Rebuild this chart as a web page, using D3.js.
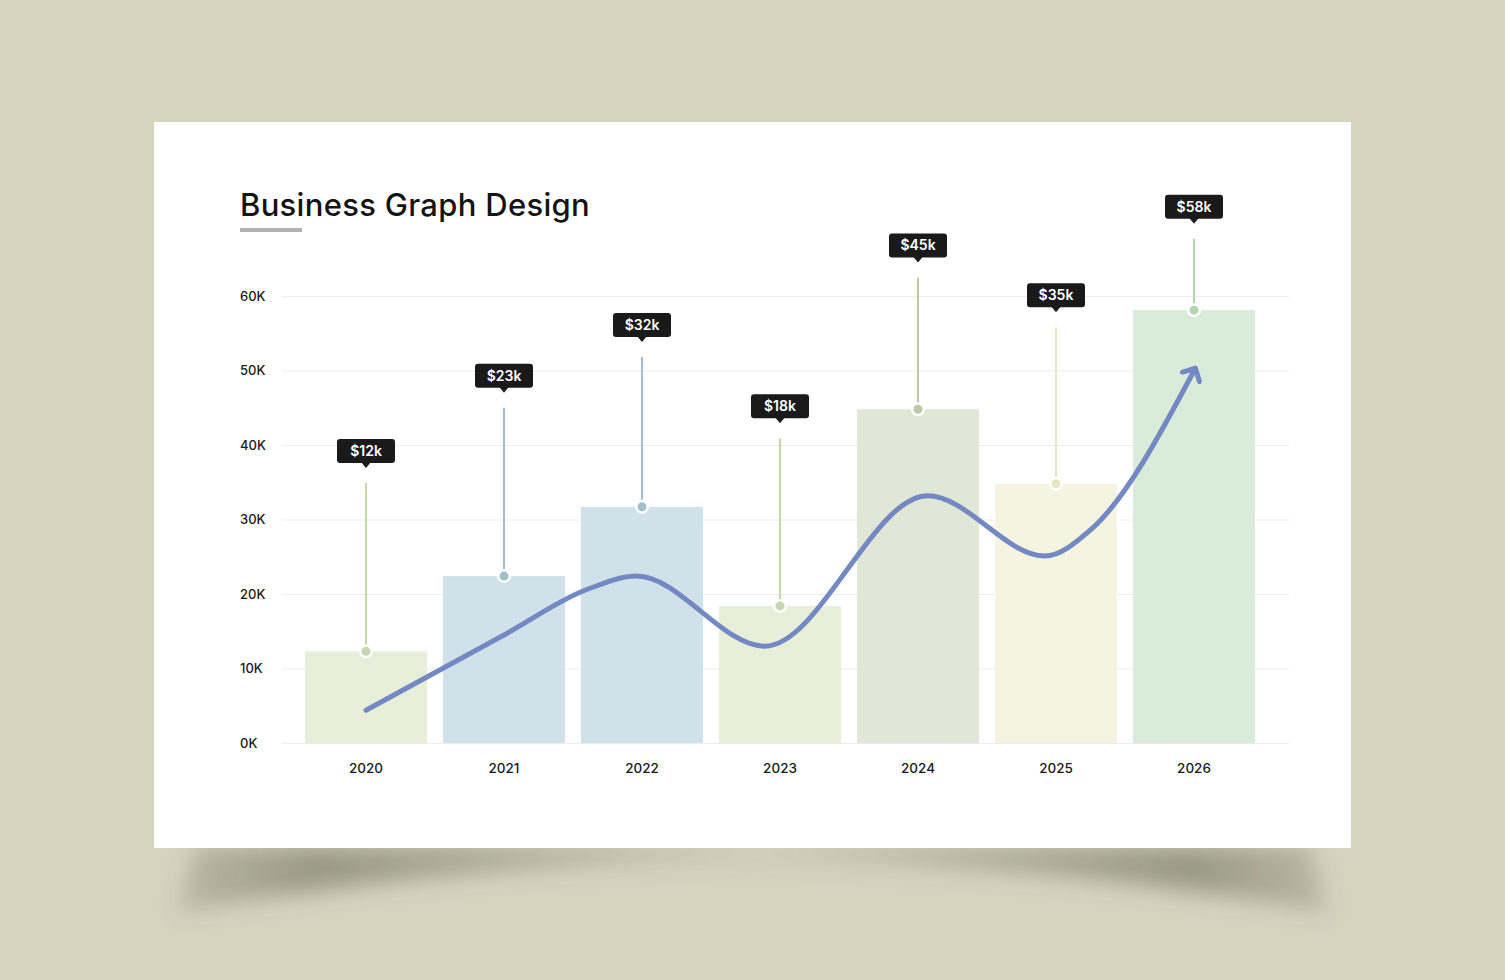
<!DOCTYPE html>
<html>
<head>
<meta charset="utf-8">
<script src="https://cdn.jsdelivr.net/npm/d3@7"></script>
<style>
  html, body { margin: 0; padding: 0; background: #d6d3bf; }
  svg { display: block; }
</style>
</head>
<body>
<div id="canvas"></div>
<script>
// data (values in K)
const years = ["2020", "2021", "2022", "2023", "2024", "2025", "2026"];
const values = [12.3, 22.4, 31.7, 18.4, 44.8, 34.8, 58.1];
const labels = ["$12k", "$23k", "$32k", "$18k", "$45k", "$35k", "$58k"];
const stemTops = [34.9, 45.0, 51.8, 40.9, 62.5, 55.8, 67.7];
const yTicks = [0, 10, 20, 30, 40, 50, 60];
// trend line: [position in bar steps from 2020, value in K]
const trendIdx = [0, 1, 1.6, 1.96, 2.89, 4.07, 4.92, 5.25, 6.01];
const trendVal = [4.4, 14.5, 20.6, 22.4, 13.0, 33.2, 25.1, 28.6, 50.3];

const barColors = ["#e7efda", "#d1e1ea", "#d1e1ea", "#e7efda", "#e1e7d7", "#f5f4e1", "#d9ebd9"];
const dotColors = ["#c6d7b0", "#a2bfcc", "#a2bfcc", "#c6d7b0", "#bdc9a6", "#e7e6c3", "#b4d5b4"];

const width = 1505, height = 980;
const svg = d3.select("#canvas").append("svg")
  .attr("width", width).attr("height", height);

const defs = svg.append("defs");
defs.append("filter").attr("id", "blur")
  .attr("x", "-20%").attr("y", "-100%").attr("width", "140%").attr("height", "300%")
  .append("feGaussianBlur").attr("stdDeviation", 11);
const grad = defs.append("linearGradient").attr("id", "shade")
  .attr("x1", "0%").attr("x2", "100%").attr("y1", "0%").attr("y2", "0%");
[[0, 0.25], [0.12, 0.55], [0.3, 0.35], [0.5, 0.08], [0.7, 0.35], [0.88, 0.55], [1, 0.25]]
  .forEach(s => grad.append("stop").attr("offset", s[0]).attr("stop-color", "#6a6858").attr("stop-opacity", s[1]));
defs.append("marker")
  .attr("id", "arrow")
  .attr("viewBox", "-12 -12 24 24")
  .attr("markerUnits", "userSpaceOnUse")
  .attr("markerWidth", 24).attr("markerHeight", 24)
  .attr("refX", 0).attr("refY", 0)
  .attr("orient", "auto")
  .append("path")
  .attr("d", "M -10 -10 L 0 0 L -10 10")
  .attr("fill", "none")
  .attr("stroke", "#7389c4")
  .attr("stroke-width", 5)
  .attr("stroke-linecap", "round")
  .attr("stroke-linejoin", "round");

// background & card shadow
svg.append("rect").attr("width", width).attr("height", height).attr("fill", "#d6d3bf");
svg.append("path")
  .attr("d", "M 178 912 Q 752 812 1328 912 L 1310 846 L 195 846 Z")
  .attr("fill", "url(#shade)")
  .attr("filter", "url(#blur)");
svg.append("rect")
  .attr("x", 154).attr("y", 122).attr("width", 1197).attr("height", 726)
  .attr("fill", "#ffffff");

// title
svg.append("text")
  .attr("x", 240).attr("y", 216)
  .attr("font-family", "Inter, 'Noto Sans', sans-serif")
  .attr("font-size", 31).attr("font-weight", 500)
  .attr("letter-spacing", 0.3)
  .attr("fill", "#141414")
  .text("Business Graph Design");
svg.append("rect")
  .attr("x", 240).attr("y", 228).attr("width", 62).attr("height", 4)
  .attr("fill", "#b3b3b3");

// scales
const x = d3.scaleBand().domain(years).range([297, 1263])
  .paddingInner(16 / 138).paddingOuter(8 / 138);
const y = d3.scaleLinear().domain([0, 60]).range([743, 296]);
const step = x.step();
const cx = d => x(d) + x.bandwidth() / 2;
const xIdx = i => cx(years[0]) + i * step;

// grid + y labels
const gy = svg.append("g").attr("transform", "translate(282,0)")
  .call(d3.axisLeft(y).tickValues(yTicks).tickSize(-1007).tickFormat(d => d + "K").tickPadding(0));
gy.select(".domain").remove();
gy.selectAll(".tick line").attr("stroke", "#ececec");
gy.selectAll(".tick text")
  .attr("x", -42).attr("text-anchor", "start")
  .attr("font-family", "Inter, 'Noto Sans', sans-serif")
  .attr("font-size", 13).attr("font-weight", 500).attr("fill", "#1a1a1a");

// x labels
const gx = svg.append("g").attr("transform", "translate(0,743)")
  .call(d3.axisBottom(x).tickSize(0).tickPadding(20));
gx.select(".domain").remove();
gx.selectAll(".tick text")
  .attr("font-family", "Inter, 'Noto Sans', sans-serif")
  .attr("font-size", 13.5).attr("font-weight", 500).attr("fill", "#1a1a1a");

const data = years.map((d, i) => ({ year: d, value: values[i], label: labels[i], stem: stemTops[i], bar: barColors[i], dot: dotColors[i] }));

// bars
svg.append("g").selectAll("rect").data(data).enter().append("rect")
  .attr("x", d => x(d.year))
  .attr("y", d => y(d.value))
  .attr("width", x.bandwidth())
  .attr("height", d => y(0) - y(d.value))
  .attr("fill", d => d.bar);

// stems
svg.append("g").selectAll("line").data(data).enter().append("line")
  .attr("x1", d => cx(d.year)).attr("x2", d => cx(d.year))
  .attr("y1", d => y(d.stem)).attr("y2", d => y(d.value))
  .attr("stroke", d => d.dot).attr("stroke-width", 2);

// trend line
const trend = trendIdx.map((t, i) => [xIdx(t), y(trendVal[i])]);
svg.append("path")
  .attr("d", d3.line().curve(d3.curveMonotoneX)(trend))
  .attr("fill", "none")
  .attr("stroke", "#7389c4")
  .attr("stroke-width", 5)
  .attr("stroke-linecap", "round")
  .attr("marker-end", "url(#arrow)");

// dots
const dots = svg.append("g").selectAll("g").data(data).enter().append("g")
  .attr("transform", d => `translate(${cx(d.year)},${y(d.value)})`);
dots.append("circle").attr("r", 7).attr("fill", "#ffffff");
dots.append("circle").attr("r", 4.5).attr("fill", d => d.dot);

// value tags
const tags = svg.append("g").selectAll("g").data(data).enter().append("g")
  .attr("transform", d => `translate(${cx(d.year)},${y(d.stem) - 44})`);
tags.append("rect")
  .attr("x", -29).attr("y", 0).attr("width", 58).attr("height", 24).attr("rx", 3)
  .attr("fill", "#1a1a1a");
tags.append("path")
  .attr("d", "M -5 23 L 0 29 L 5 23 Z")
  .attr("fill", "#1a1a1a");
tags.append("text")
  .attr("x", 0).attr("y", 17)
  .attr("text-anchor", "middle")
  .attr("font-family", "Inter, 'Noto Sans', sans-serif")
  .attr("font-size", 14).attr("font-weight", 600)
  .attr("fill", "#ffffff")
  .text(d => d.label);
</script>
</body>
</html>
